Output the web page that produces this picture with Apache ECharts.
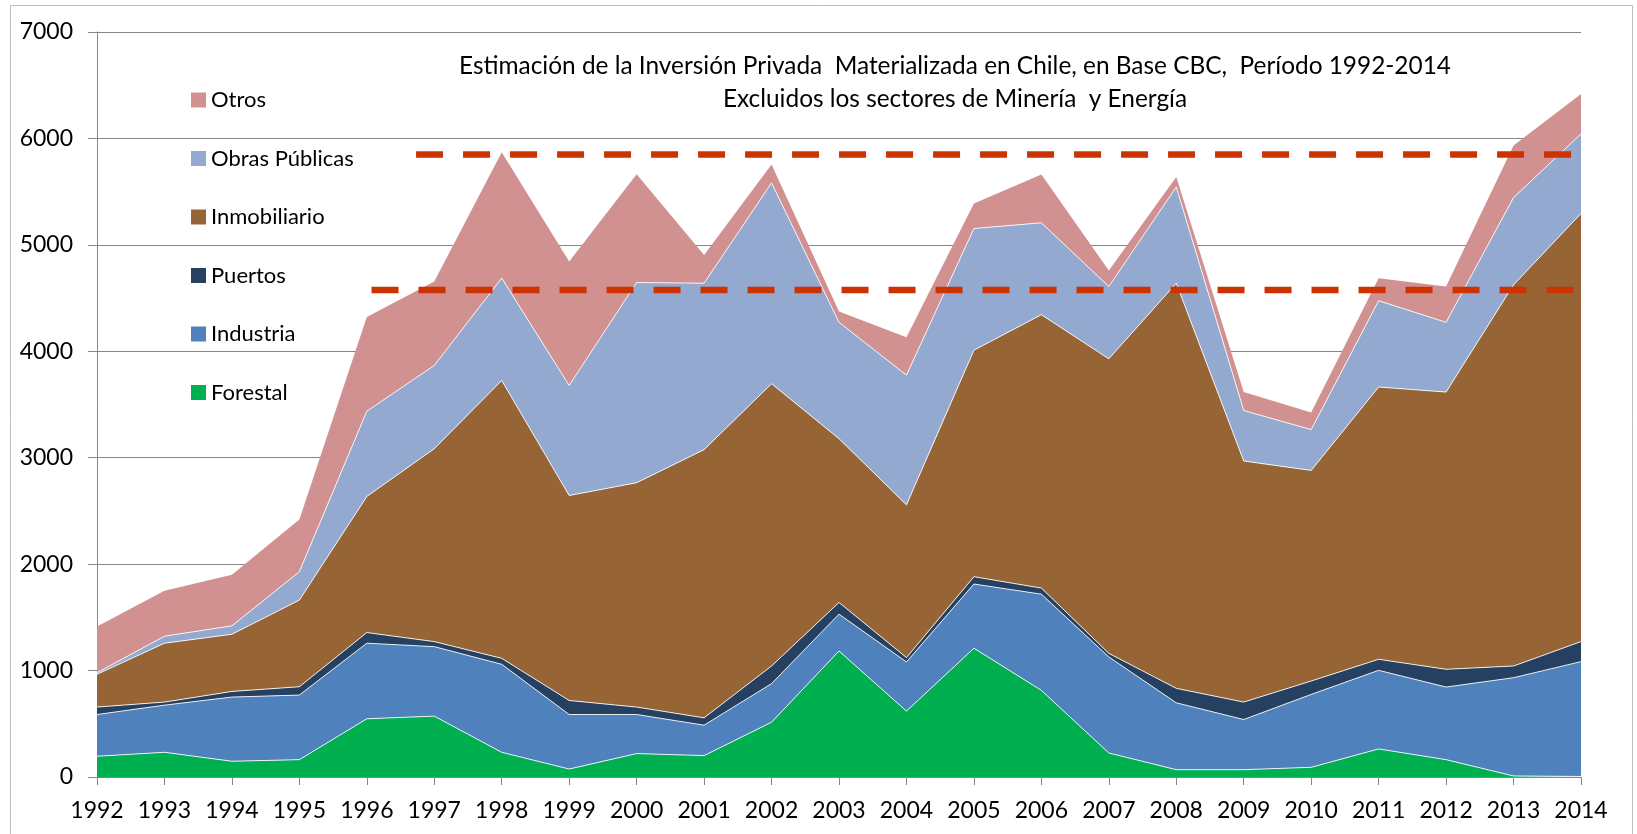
<!DOCTYPE html>
<html>
<head>
<meta charset="utf-8">
<script src="https://cdn.jsdelivr.net/npm/echarts@6/dist/echarts.min.js"></script>
<style>
html,body{margin:0;padding:0;background:#fff;}
#chart{width:1637px;height:834px;}
</style>
</head>
<body>
<div id="chart"></div>
<script>
var years = ['1992','1993','1994','1995','1996','1997','1998','1999','2000','2001','2002','2003','2004','2005','2006','2007','2008','2009','2010','2011','2012','2013','2014'];
var forestal = [195,232,148,163,547,572,232,75,220,201,515,1184,619,1210,814,226,69,69,91,264,163,10,5];
var industria = [392,443,603,607,710,653,827,512,367,286,362,346,462,603,904,902,628,471,685,738,682,923,1079];
var puertos = [70,29,53,78,100,47,56,132,70,69,166,110,41,69,57,34,136,164,126,104,167,110,188];
var inmobiliario = [308,553,537,814,1279,1813,2611,1926,2108,2520,2652,1539,1435,2128,2569,2767,3807,2265,1979,2558,2605,3581,4023];
var obrasPublicas = [15,66,79,267,801,782,961,1034,1881,1564,1887,1093,1219,1144,863,680,904,474,383,811,655,820,748];
var otros = [434,427,481,490,885,788,1184,1164,1017,265,174,103,356,234,453,149,94,174,160,212,337,490,374];
var yTicks = [0,1000,2000,3000,4000,5000,6000,7000];
var refUpper = [[1996.73,5850],[2014.45,5850]];
var refLower = [[1996.07,4577],[2014.45,4577]];
var titleLines = ['Estimación de la Inversión Privada  Materializada en Chile, en Base CBC,  Período 1992-2014','Excluidos los sectores de Minería  y Energía'];
var legendOrder = ['Otros','Obras Públicas','Inmobiliario','Puertos','Industria','Forestal'];

var FONT = 'Lato';
var chart = echarts.init(document.getElementById('chart'), null, {renderer:'canvas'});

function area(name, data, color, withLine){
  return {
    name:name, type:'line', stack:'total', data:data, xAxisIndex:0, yAxisIndex:0,
    symbol:'none', showSymbol:false,
    lineStyle: withLine ? {width:1, color:'rgba(255,255,255,0.85)'} : {width:0},
    itemStyle:{color:color},
    areaStyle:{color:color, opacity:1},
    emphasis:{disabled:true}
  };
}
function refLine(data){
  return {
    type:'line', data:data, xAxisIndex:1, yAxisIndex:0, symbol:'none', clip:false, z:10,
    lineStyle:{color:'#CC3300', width:6.5, type:[27,20], cap:'butt'},
    emphasis:{disabled:true}, silent:true
  };
}

chart.setOption({
  animation:false,
  backgroundColor:'#ffffff',
  grid:{left:97, right:56, top:32, bottom:57, containLabel:false},
  legend:{
    data:legendOrder, orient:'vertical', left:191, top:89, padding:0,
    icon:'rect', itemWidth:15, itemHeight:15, itemGap:36.5,
    textStyle:{fontFamily:FONT, fontSize:22, color:'#000', lineHeight:21, padding:[0,0,0,0]},
    selectedMode:false
  },
  graphic:[
    {type:'rect', shape:{x:10.5, y:5.5, width:1622, height:840}, style:{fill:'none', stroke:'#bfbfbf', lineWidth:1}, z:-1},
    {type:'text', x:955, y:66, style:{text:titleLines[0], font:'24.4px '+FONT, fill:'#000', textAlign:'center', textVerticalAlign:'middle'}, z:20},
    {type:'text', x:955, y:99, style:{text:titleLines[1], font:'24.4px '+FONT, fill:'#000', textAlign:'center', textVerticalAlign:'middle'}, z:20}
  ],
  xAxis:[
    {type:'category', data:years, boundaryGap:false,
     axisLine:{lineStyle:{color:'#868686', width:1}},
     axisTick:{show:true, inside:false, length:8, alignWithLabel:true, lineStyle:{color:'#868686'}},
     axisLabel:{fontFamily:FONT, fontSize:23, color:'#000', margin:22, interval:0},
     splitLine:{show:false}},
    {type:'value', min:1992, max:2014, show:false}
  ],
  yAxis:[
    {type:'value', min:yTicks[0], max:yTicks[yTicks.length-1], interval:1000,
     axisLine:{show:true, lineStyle:{color:'#868686', width:1}},
     axisTick:{show:true, length:9, lineStyle:{color:'#868686'}},
     axisLabel:{fontFamily:FONT, fontSize:23, color:'#000', margin:24, formatter:function(v){return String(v);}},
     splitLine:{show:true, lineStyle:{color:'#868686', width:1}}}
  ],
  series:[
    area('Forestal', forestal, '#00B050', true),
    area('Industria', industria, '#4F81BD', true),
    area('Puertos', puertos, '#254061', true),
    area('Inmobiliario', inmobiliario, '#976535', true),
    area('Obras Públicas', obrasPublicas, '#94A9CF', true),
    area('Otros', otros, '#D29191', false),
    refLine(refUpper),
    refLine(refLower)
  ]
});
</script>
</body>
</html>
